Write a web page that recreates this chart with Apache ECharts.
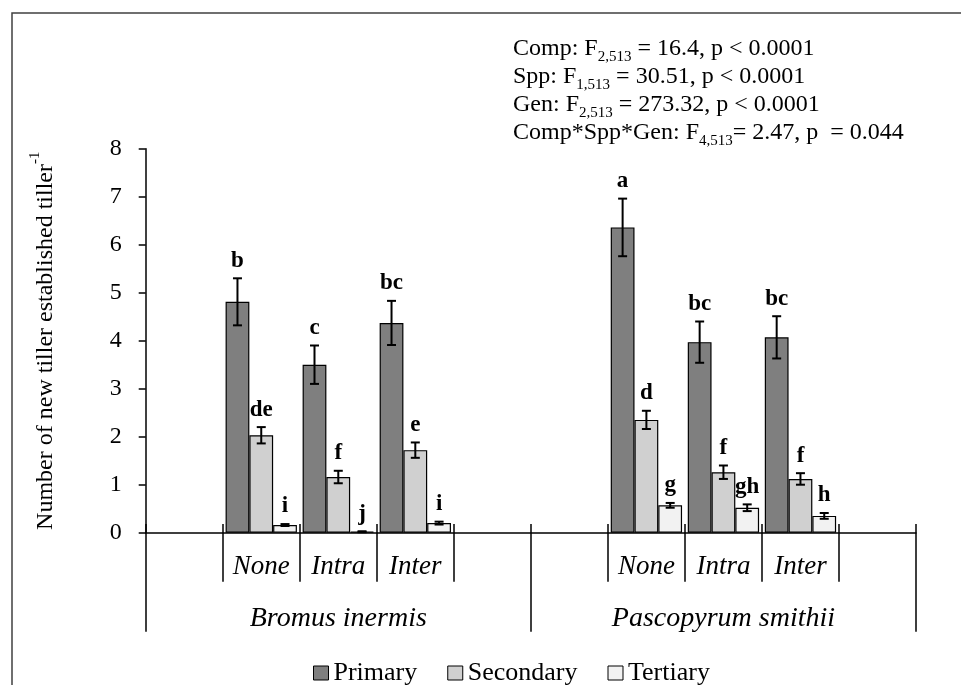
<!DOCTYPE html>
<html>
<head>
<meta charset="utf-8">
<script src="https://cdn.jsdelivr.net/npm/echarts@6/dist/echarts.min.js"></script>
<style>
  html, body { margin: 0; padding: 0; background: #fff; }
  #chart { width: 961px; height: 685px; }
</style>
</head>
<body>
<div id="chart"></div>
<script>
// Competition treatments inside each species block (empty slots pad the blocks)
const categories = ['', 'None', 'Intra', 'Inter', '', '', 'None', 'Intra', 'Inter', ''];
const species = ['Bromus inermis', 'Pascopyrum smithii'];
const generations = ['Primary', 'Secondary', 'Tertiary'];

// Mean number of new tillers per established tiller, with standard errors
const primaryMean   = [null, 4.81, 3.50, 4.37, null, null, 6.36, 3.97, 4.07, null];
const primarySE     = [null, 0.49, 0.40, 0.46, null, null, 0.60, 0.43, 0.44, null];
const secondaryMean = [null, 2.03, 1.16, 1.72, null, null, 2.35, 1.26, 1.12, null];
const secondarySE   = [null, 0.17, 0.13, 0.16, null, null, 0.19, 0.14, 0.12, null];
const tertiaryMean  = [null, 0.16, 0.02, 0.20, null, null, 0.57, 0.52, 0.35, null];
const tertiarySE    = [null, 0.02, 0.01, 0.03, null, null, 0.05, 0.07, 0.06, null];

// Mean separation letters
const primaryLetters   = ['', 'b', 'c', 'bc', '', '', 'a', 'bc', 'bc', ''];
const secondaryLetters = ['', 'de', 'f', 'e', '', '', 'd', 'f', 'f', ''];
const tertiaryLetters  = ['', 'i', 'j', 'i', '', '', 'g', 'gh', 'h', ''];

// Y axis scale
const yMin = 0, yMax = 8, yStep = 1;

// ANOVA summary: [prefix, subscript, remainder]
const statLines = [
  ['Comp: F', '2,513', ' = 16.4, p < 0.0001'],
  ['Spp: F', '1,513', ' = 30.51, p < 0.0001'],
  ['Gen: F', '2,513', ' = 273.32, p < 0.0001'],
  ['Comp*Spp*Gen: F', '4,513', '= 2.47, p  = 0.044']
];

const FONT = "'Liberation Serif', 'Times New Roman', serif";
const colors = ['#7f7f7f', '#d0d0d0', '#f2f2f2'];
const CAT_GAP = 0.074;

const means = [primaryMean, secondaryMean, tertiaryMean];
const ses = [primarySE, secondarySE, tertiarySE];
const letters = [primaryLetters, secondaryLetters, tertiaryLetters];

const barSeries = generations.map((g, k) => ({
  name: g,
  type: 'bar',
  xAxisIndex: 0,
  data: means[k],
  barGap: '0%',
  barCategoryGap: (CAT_GAP * 100) + '%',
  itemStyle: { color: colors[k], borderColor: '#000', borderWidth: 1.2 },
  z: 2
}));

const errorSeries = generations.map((g, k) => ({
  name: g + ' SE',
  type: 'custom',
  xAxisIndex: 0,
  z: 5,
  data: means[k].map((m, i) => m === null ? null : [i, m, ses[k][i]]).filter(d => d),
  renderItem: function (params, api) {
    const i = api.value(0), m = api.value(1), se = api.value(2);
    const band = api.size([1, 0])[0];
    const barW = band * (1 - CAT_GAP) / 3;
    const cx = api.coord([i, 0])[0] + (k - 1) * barW;
    const yTop = api.coord([i, m + se])[1];
    const yBot = api.coord([i, m - se])[1];
    const cap = 4.5;
    const ls = { stroke: '#000', lineWidth: 2 };
    return {
      type: 'group',
      children: [
        { type: 'line', shape: { x1: cx, y1: yTop, x2: cx, y2: yBot }, style: ls },
        { type: 'line', shape: { x1: cx - cap, y1: yTop, x2: cx + cap, y2: yTop }, style: ls },
        { type: 'line', shape: { x1: cx - cap, y1: yBot, x2: cx + cap, y2: yBot }, style: ls },
        {
          type: 'text',
          style: {
            x: cx, y: yTop - 6,
            text: letters[k][i],
            font: 'bold 23px ' + FONT,
            fill: '#000',
            align: 'center',
            verticalAlign: 'bottom'
          }
        }
      ]
    };
  }
}));

// Boundaries drawn around each treatment slot (left and right edges)
function isTreatmentEdge(index) {
  return categories[index] !== '' || (index > 0 && categories[index - 1] !== '');
}

const chart = echarts.init(document.getElementById('chart'), null, { renderer: 'canvas' });

chart.setOption({
  backgroundColor: '#fff',
  animation: false,
  grid: { left: 145.7, right: 45, top: 148.7, bottom: 152.3 },
  legend: {
    data: generations,
    left: 308,
    top: 655,
    icon: 'rect',
    itemWidth: 15,
    itemHeight: 14,
    itemGap: 30,
    itemStyle: { borderColor: '#000', borderWidth: 1 },
    textStyle: { fontFamily: FONT, fontSize: 26, color: '#000' }
  },
  xAxis: [
    {
      type: 'category',
      position: 'bottom',
      data: categories,
      axisLine: { lineStyle: { color: '#000', width: 1.5 } },
      axisTick: { show: false },
      axisLabel: {
        interval: 0,
        margin: 21,
        fontFamily: FONT,
        fontStyle: 'italic',
        fontSize: 27,
        color: '#000'
      }
    },
    {
      type: 'category',
      position: 'bottom',
      data: categories,
      offset: -8.7,
      axisLine: { show: false },
      axisTick: {
        show: true,
        length: 57.7,
        interval: isTreatmentEdge,
        lineStyle: { color: '#000', width: 1.5 }
      },
      axisLabel: { show: false }
    },
    {
      type: 'category',
      position: 'bottom',
      data: species,
      offset: -8.7,
      axisLine: { show: false },
      axisTick: { show: true, length: 107.7, interval: 0, lineStyle: { color: '#000', width: 1.5 } },
      axisLabel: {
        interval: 0,
        margin: 81,
        fontFamily: FONT,
        fontStyle: 'italic',
        fontSize: 28,
        color: '#000'
      }
    }
  ],
  yAxis: {
    type: 'value',
    min: yMin,
    max: yMax,
    interval: yStep,
    splitLine: { show: false },
    axisLine: { show: true, lineStyle: { color: '#000', width: 1.5 } },
    axisTick: { show: true, length: 7, lineStyle: { color: '#000', width: 1.5 } },
    axisLabel: { margin: 24, fontFamily: FONT, fontSize: 24, color: '#000' },
    name: '{m|Number of new tiller established tiller}{s|-1}',
    nameLocation: 'middle',
    nameRotate: 90,
    nameGap: 88,
    nameTextStyle: {
      rich: {
        m: { fontFamily: FONT, fontSize: 24, color: '#000', padding: [6, 0, 0, 0], verticalAlign: 'top' },
        s: { fontFamily: FONT, fontSize: 15, color: '#000', verticalAlign: 'top' }
      }
    }
  },
  graphic: [
    {
      type: 'rect',
      left: 9.5,
      top: 10.5,
      shape: { x: 0, y: 0, width: 1000, height: 1000 },
      style: { fill: 'none', stroke: '#404040', lineWidth: 1.5 },
      silent: true
    },
    {
      type: 'text',
      left: 513,
      top: 37,
      style: {
        text: statLines.map(l => '{m|' + l[0] + '}{s|' + l[1] + '}{m|' + l[2] + '}').join('\n'),
        rich: {
          m: { fontFamily: FONT, fontSize: 24, lineHeight: 28, fill: '#000', verticalAlign: 'top' },
          s: { fontFamily: FONT, fontSize: 15, lineHeight: 12, fill: '#000', padding: [13, 0, 0, 0], verticalAlign: 'top' }
        }
      }
    }
  ],
  series: barSeries.concat(errorSeries)
});
</script>
</body>
</html>
